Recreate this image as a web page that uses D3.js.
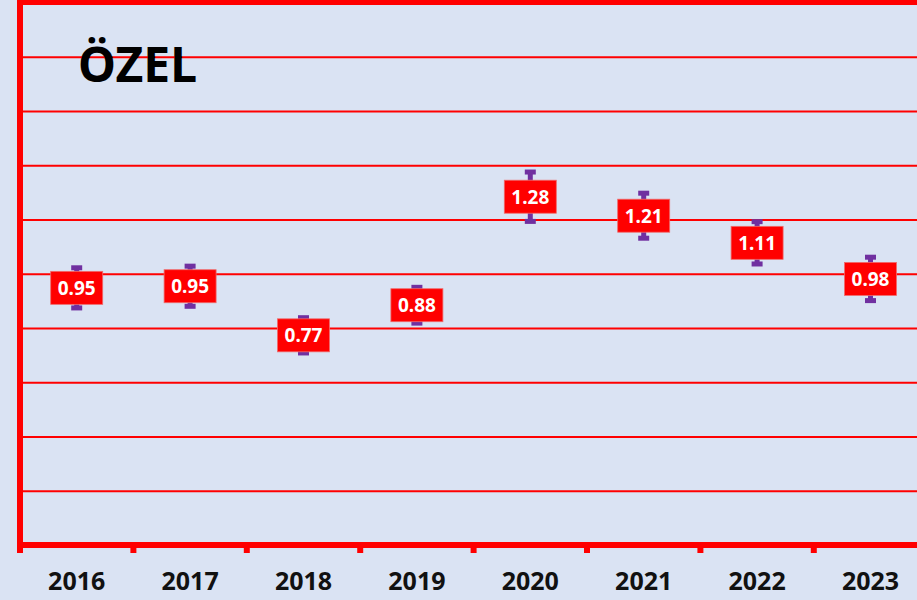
<!DOCTYPE html>
<html>
<head>
<meta charset="utf-8">
<script src="https://cdn.jsdelivr.net/npm/d3@7/dist/d3.min.js"></script>
<style>
  body { margin: 0; background: #dae3f3; }
  svg { display: block; font-family: "Noto Sans", sans-serif; }
</style>
</head>
<body>
<svg id="chart" width="917" height="600"></svg>
<script>
// values
var years = ["2016", "2017", "2018", "2019", "2020", "2021", "2022", "2023"];
var values = [0.948, 0.954, 0.773, 0.884, 1.284, 1.214, 1.114, 0.981];
var errors = [0.074, 0.074, 0.065, 0.066, 0.091, 0.083, 0.078, 0.08];
var gridTicks = [0.2, 0.4, 0.6, 0.8, 1.0, 1.2, 1.4, 1.6, 1.8];
var title = "ÖZEL";

var red = "#ff0000";
var purple = "#7030a0";

var svg = d3.select("#chart");

var plotLeft = 20, plotTop = 2.5, plotBottom = 545;
var step = 113.4;

var x = d3.scaleBand()
  .domain(years)
  .range([plotLeft, plotLeft + step * years.length])
  .padding(0);

var y = d3.scaleLinear()
  .domain([0, 2])
  .range([plotBottom, plotTop]);

svg.append("rect")
  .attr("width", 917).attr("height", 600)
  .attr("fill", "#dae3f3");

// gridlines
var grid = svg.append("g")
  .attr("transform", "translate(" + plotLeft + ",0)")
  .call(d3.axisLeft(y).tickValues(gridTicks).tickSize(-(x.range()[1] - plotLeft)).tickFormat(""));
grid.select(".domain").remove();
grid.selectAll(".tick line")
  .attr("stroke", red)
  .attr("stroke-width", 2);

// top border
svg.append("line")
  .attr("x1", plotLeft).attr("x2", 917)
  .attr("y1", y(2)).attr("y2", y(2))
  .attr("stroke", red).attr("stroke-width", 5);

// category tick marks under the axis
var edges = years.map(function (d) { return x(d); }).concat([x.range()[1]]);
svg.append("g").selectAll("line")
  .data(edges)
  .join("line")
  .attr("x1", function (d) { return d; })
  .attr("x2", function (d) { return d; })
  .attr("y1", plotBottom)
  .attr("y2", plotBottom + 8)
  .attr("stroke", red)
  .attr("stroke-width", 6);

// axes lines
svg.append("line")
  .attr("x1", plotLeft).attr("x2", plotLeft)
  .attr("y1", 0).attr("y2", plotBottom + 3)
  .attr("stroke", red).attr("stroke-width", 6);
svg.append("line")
  .attr("x1", plotLeft - 3).attr("x2", 917)
  .attr("y1", plotBottom).attr("y2", plotBottom)
  .attr("stroke", red).attr("stroke-width", 6);

// year labels
svg.append("g").selectAll("text")
  .data(years)
  .join("text")
  .attr("x", function (d) { return x(d) + x.bandwidth() / 2; })
  .attr("y", 590)
  .attr("text-anchor", "middle")
  .attr("font-size", 25)
  .attr("font-weight", "bold")
  .attr("fill", "#111")
  .text(function (d) { return d; });

// error bars
var bars = svg.append("g").selectAll("g")
  .data(years)
  .join("g")
  .attr("transform", function (d) { return "translate(" + (x(d) + x.bandwidth() / 2) + ",0)"; });

bars.append("line")
  .attr("y1", function (d, i) { return y(values[i] + errors[i]); })
  .attr("y2", function (d, i) { return y(values[i] - errors[i]); })
  .attr("stroke", purple)
  .attr("stroke-width", 5);

bars.append("line")
  .attr("x1", -5.5).attr("x2", 5.5)
  .attr("y1", function (d, i) { return y(values[i] + errors[i]); })
  .attr("y2", function (d, i) { return y(values[i] + errors[i]); })
  .attr("stroke", purple)
  .attr("stroke-width", 5);

bars.append("line")
  .attr("x1", -5.5).attr("x2", 5.5)
  .attr("y1", function (d, i) { return y(values[i] - errors[i]); })
  .attr("y2", function (d, i) { return y(values[i] - errors[i]); })
  .attr("stroke", purple)
  .attr("stroke-width", 5);

// value labels
bars.append("rect")
  .attr("x", -26)
  .attr("y", function (d, i) { return y(values[i]) - 16.5; })
  .attr("width", 52)
  .attr("height", 33)
  .attr("fill", red)
  .attr("stroke", "#f06a6a")
  .attr("stroke-width", 0.8);

bars.append("text")
  .attr("y", function (d, i) { return y(values[i]) + 7; })
  .attr("text-anchor", "middle")
  .attr("font-size", 19)
  .attr("font-weight", "bold")
  .attr("fill", "#fff")
  .text(function (d, i) { return d3.format(".2f")(values[i]); });

// title
svg.append("text")
  .attr("x", 78)
  .attr("y", 82)
  .attr("font-size", 48)
  .attr("font-weight", "bold")
  .attr("fill", "#000")
  .text(title);
</script>
</body>
</html>
